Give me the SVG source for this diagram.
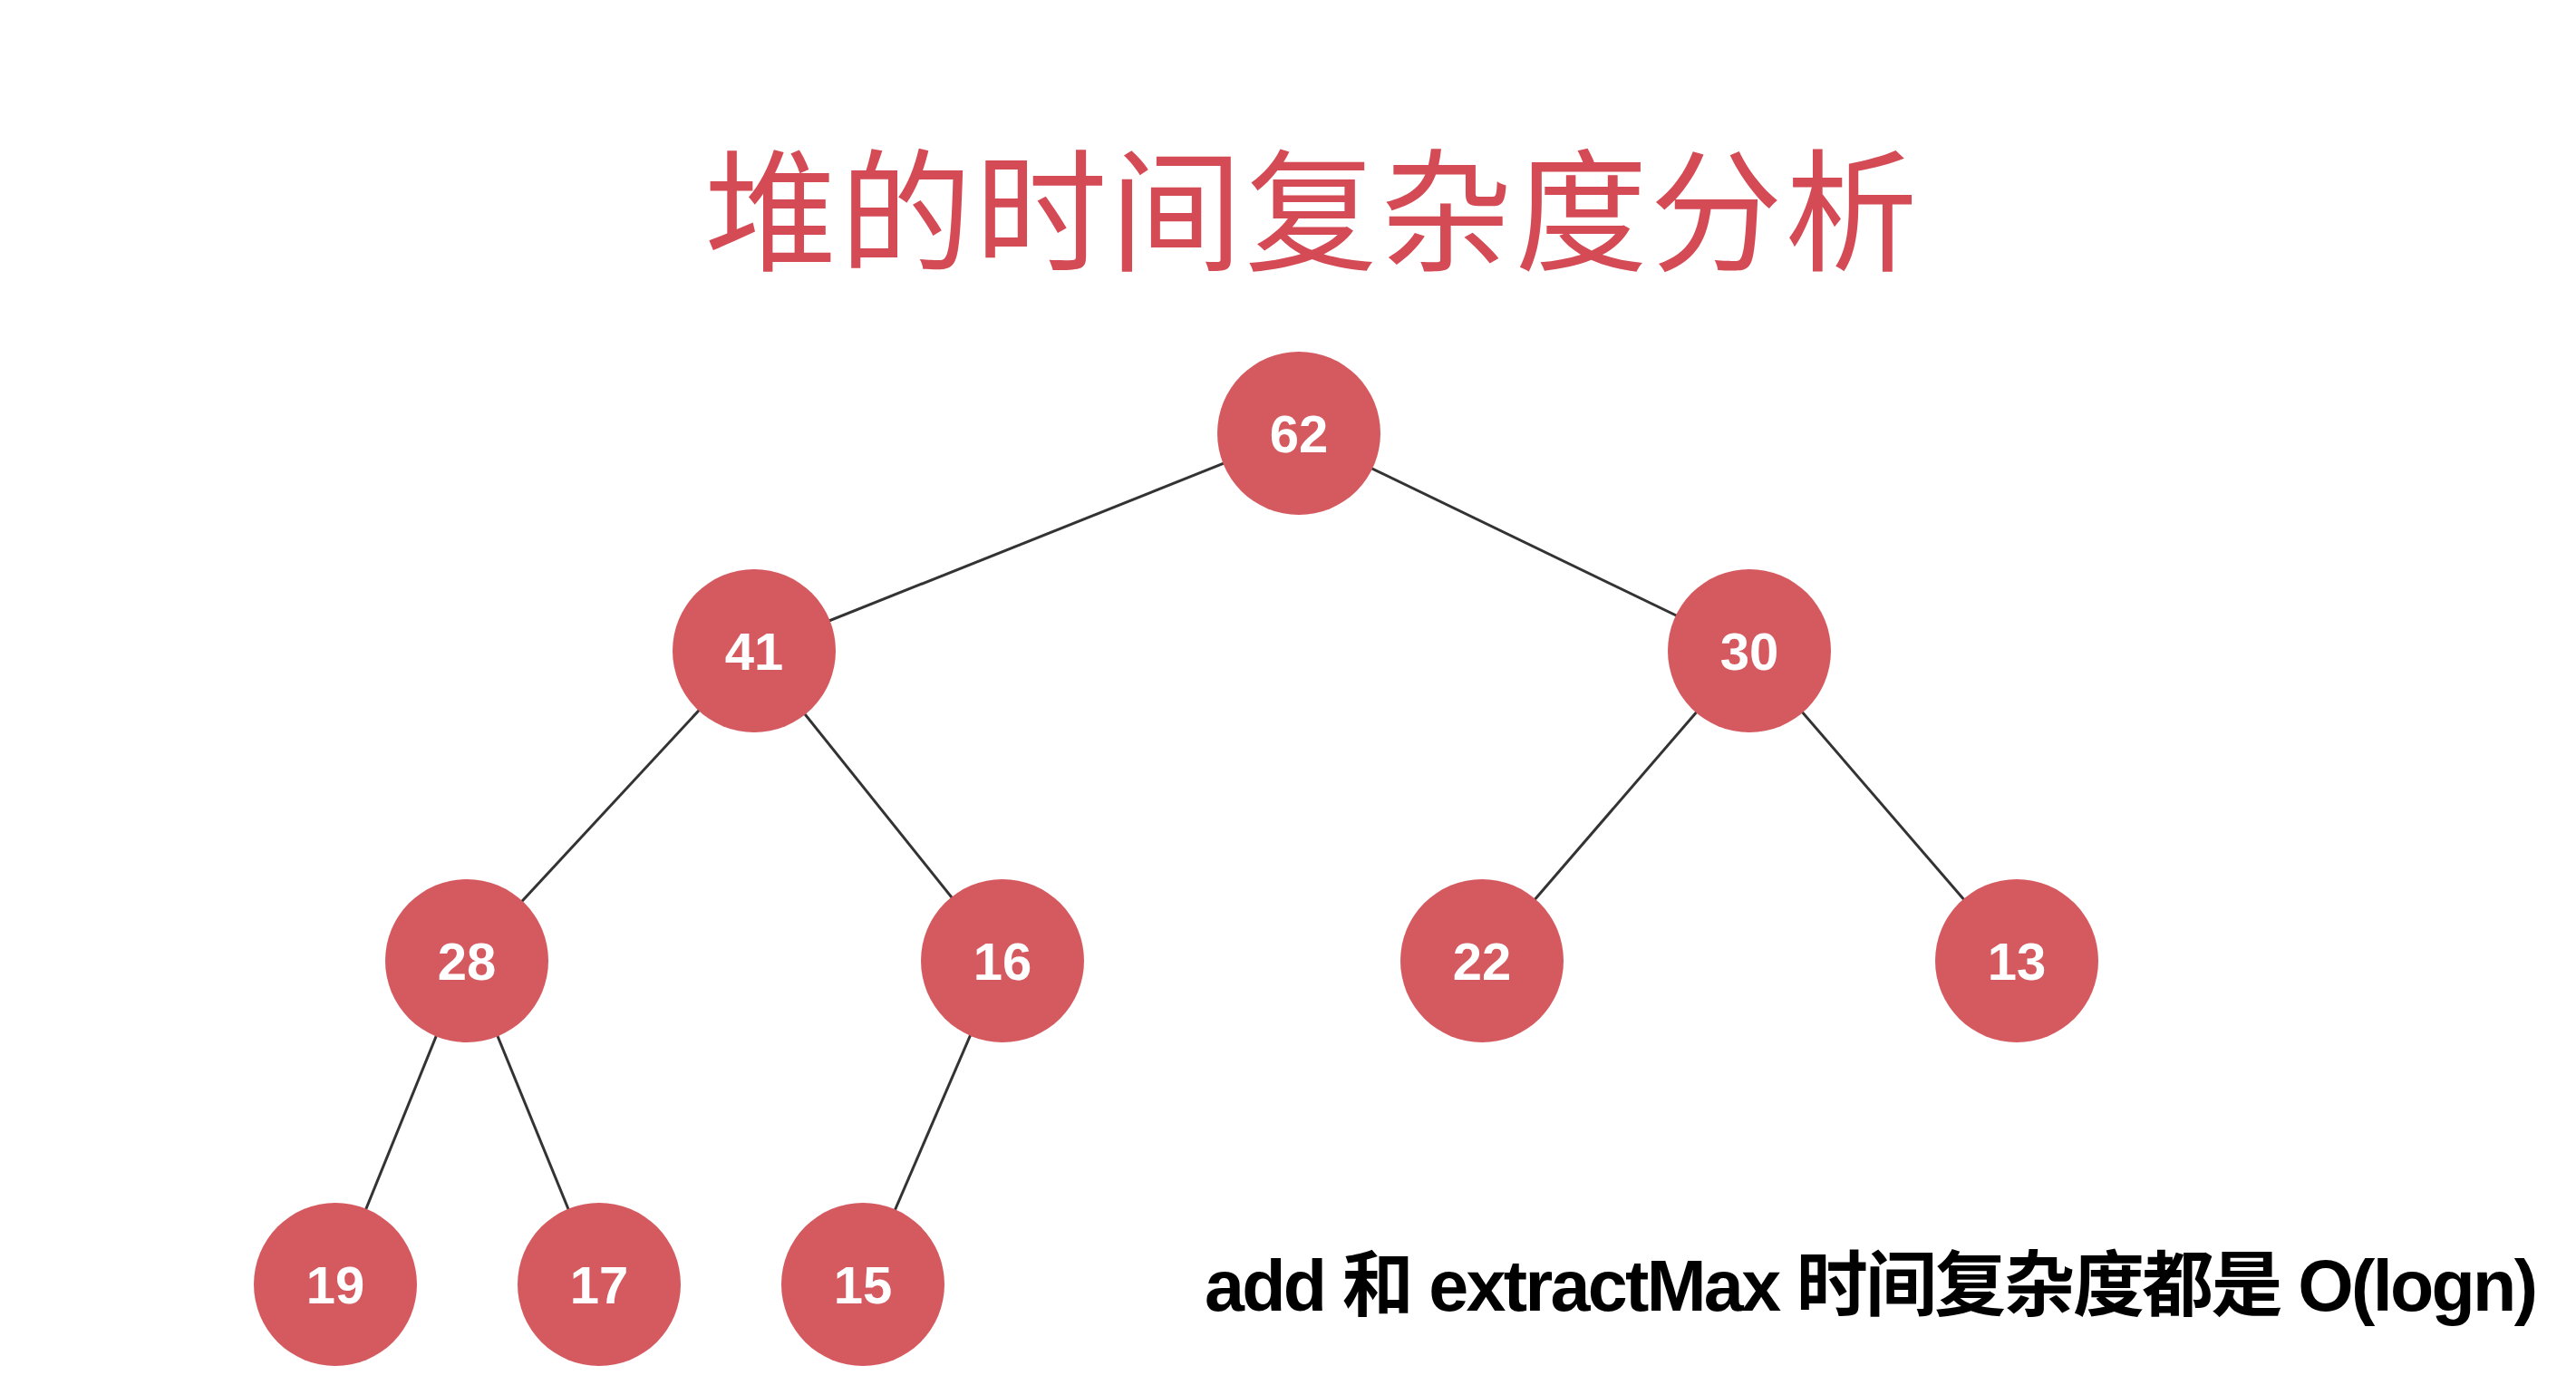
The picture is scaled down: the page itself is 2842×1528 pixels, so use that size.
<svg xmlns="http://www.w3.org/2000/svg" width="2842" height="1528" viewBox="0 0 2842 1528">
<style>
.node circle{fill:#D55A60;}
.node text{fill:#fff;font-family:"Liberation Sans",Arial,sans-serif;font-weight:bold;font-size:58px;text-anchor:middle;}
.edge{stroke:#333;stroke-width:3;fill:none;}
.title{fill:#D54B55;font-family:"Noto Sans CJK SC","Noto Sans",sans-serif;font-size:146px;text-anchor:middle;}
.note{fill:#000;font-family:"Liberation Sans","Noto Sans CJK SC",sans-serif;font-weight:bold;font-size:79px;}
</style>
<rect width="2842" height="1528" fill="#fff"/>
<text class="title" x="1448" y="287" letter-spacing="3">堆的时间复杂度分析</text>
<g id="connectors">
<line class="edge" x1="1433" y1="478" x2="832" y2="718"/>
<line class="edge" x1="1433" y1="478" x2="1930" y2="718"/>
<line class="edge" x1="832" y1="718" x2="515" y2="1060"/>
<line class="edge" x1="832" y1="718" x2="1106" y2="1060"/>
<line class="edge" x1="1930" y1="718" x2="1635" y2="1060"/>
<line class="edge" x1="1930" y1="718" x2="2225" y2="1060"/>
<line class="edge" x1="515" y1="1060" x2="370" y2="1417"/>
<line class="edge" x1="515" y1="1060" x2="661" y2="1417"/>
<line class="edge" x1="1106" y1="1060" x2="952" y2="1417"/>
</g>
<g id="n62" class="node"><circle cx="1433" cy="478" r="90"/><text x="1433" y="499">62</text></g>
<g id="n41" class="node"><circle cx="832" cy="718" r="90"/><text x="832" y="739">41</text></g>
<g id="n30" class="node"><circle cx="1930" cy="718" r="90"/><text x="1930" y="739">30</text></g>
<g id="n28" class="node"><circle cx="515" cy="1060" r="90"/><text x="515" y="1081">28</text></g>
<g id="n16" class="node"><circle cx="1106" cy="1060" r="90"/><text x="1106" y="1081">16</text></g>
<g id="n22" class="node"><circle cx="1635" cy="1060" r="90"/><text x="1635" y="1081">22</text></g>
<g id="n13" class="node"><circle cx="2225" cy="1060" r="90"/><text x="2225" y="1081">13</text></g>
<g id="n19" class="node"><circle cx="370" cy="1417" r="90"/><text x="370" y="1438">19</text></g>
<g id="n17" class="node"><circle cx="661" cy="1417" r="90"/><text x="661" y="1438">17</text></g>
<g id="n15" class="node"><circle cx="952" cy="1417" r="90"/><text x="952" y="1438">15</text></g>
<text class="note" x="1329" y="1446" textLength="1471" lengthAdjust="spacing">add 和 extractMax 时间复杂度都是 O(logn)</text>
</svg>
